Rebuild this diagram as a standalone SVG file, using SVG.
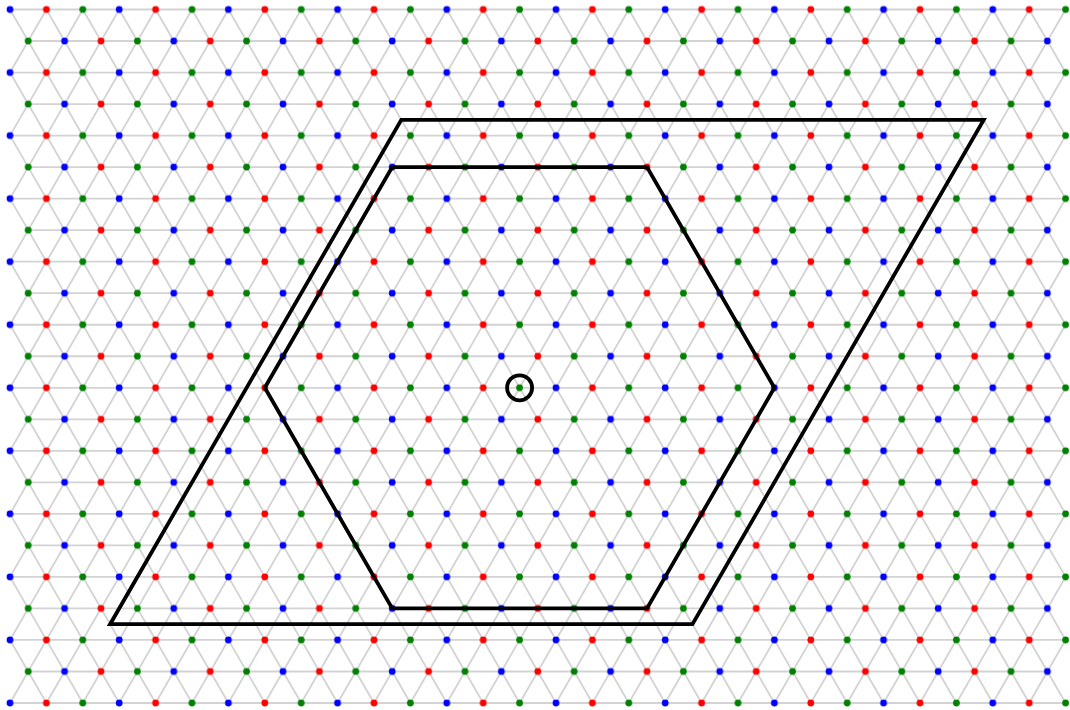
<svg xmlns="http://www.w3.org/2000/svg" width="1070" height="710" viewBox="0 0 1070 710">
  <style>
    .grid { fill: none; stroke: #d3d3d3; stroke-width: 1.8; }
    .outline { fill: none; stroke: #000; stroke-width: 3.8; stroke-linejoin: miter; }
  </style>
  <defs>
    <pattern id="dots" patternUnits="userSpaceOnUse" x="0.9" y="-6.2617" width="109.2" height="63.046">
      <circle cx="9.1" cy="15.762" r="3.4" fill="#0000ff"/>
      <circle cx="45.5" cy="15.762" r="3.4" fill="#ff0000"/>
      <circle cx="81.9" cy="15.762" r="3.4" fill="#008000"/>
      <circle cx="27.3" cy="47.285" r="3.4" fill="#008000"/>
      <circle cx="63.7" cy="47.285" r="3.4" fill="#0000ff"/>
      <circle cx="100.1" cy="47.285" r="3.4" fill="#ff0000"/>
    </pattern>
  </defs>
  <rect width="1070" height="710" fill="#ffffff"/>
  <g id="lattice-edges">
    <path class="grid" vector-effect="non-scaling-stroke" transform="matrix(36.4 0 0 31.523 10 9.5)" d="M0 0H29M0.5 1H28.5M0 2H29M0.5 3H28.5M0 4H29M0.5 5H28.5M0 6H29M0.5 7H28.5M0 8H29M0.5 9H28.5M0 10H29M0.5 11H28.5M0 12H29M0.5 13H28.5M0 14H29M0.5 15H28.5M0 16H29M0.5 17H28.5M0 18H29M0.5 19H28.5M0 20H29M0.5 21H28.5M0 22H29
M0 20L1 22M0 18L2 22M0 16L3 22M0 14L4 22M0 12L5 22M0 10L6 22M0 8L7 22M0 6L8 22M0 4L9 22M0 2L10 22
M0 0L11 22M1 0L12 22M2 0L13 22M3 0L14 22M4 0L15 22M5 0L16 22M6 0L17 22M7 0L18 22M8 0L19 22M9 0L20 22M10 0L21 22M11 0L22 22M12 0L23 22M13 0L24 22M14 0L25 22M15 0L26 22M16 0L27 22M17 0L28 22M18 0L29 22
M19 0L29 20M20 0L29 18M21 0L29 16M22 0L29 14M23 0L29 12M24 0L29 10M25 0L29 8M26 0L29 6M27 0L29 4M28 0L29 2
M1 0L0 2M2 0L0 4M3 0L0 6M4 0L0 8M5 0L0 10M6 0L0 12M7 0L0 14M8 0L0 16M9 0L0 18M10 0L0 20
M11 0L0 22M12 0L1 22M13 0L2 22M14 0L3 22M15 0L4 22M16 0L5 22M17 0L6 22M18 0L7 22M19 0L8 22M20 0L9 22M21 0L10 22M22 0L11 22M23 0L12 22M24 0L13 22M25 0L14 22M26 0L15 22M27 0L16 22M28 0L17 22M29 0L18 22
M29 2L19 22M29 4L20 22M29 6L21 22M29 8L22 22M29 10L23 22M29 12L24 22M29 14L25 22M29 16L26 22M29 18L27 22M29 20L28 22"/>
  </g>
  <g id="lattice-sites">
    <rect x="5" y="4" width="1065" height="704" fill="url(#dots)"/>
  </g>
  <g id="supercell">
    <polygon class="outline" points="401.3,119.83 983.7,119.83 692.5,624.2 110.1,624.2"/>
  </g>
  <g id="hexagon">
    <polygon class="outline" points="264.8,387.78 392.2,167.12 647,167.12 774.4,387.78 647,608.44 392.2,608.44"/>
  </g>
  <g id="origin">
    <circle class="outline" cx="519.6" cy="387.78" r="12.5"/>
  </g>
</svg>
